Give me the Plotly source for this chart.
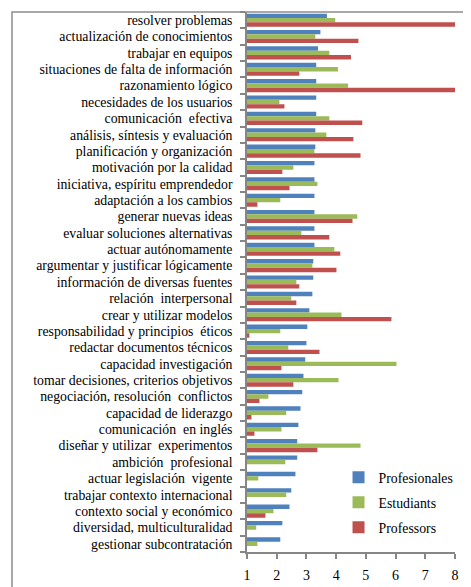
import plotly.graph_objects as go

categories = [
    "resolver problemas", "actualización de conocimientos", "trabajar en equipos",
    "situaciones de falta de información", "razonamiento lógico", "necesidades de los usuarios",
    "comunicación  efectiva", "análisis, síntesis y evaluación", "planificación y organización",
    "motivación por la calidad", "iniciativa, espíritu emprendedor", "adaptación a los cambios",
    "generar nuevas ideas", "evaluar soluciones alternativas", "actuar autónomamente",
    "argumentar y justificar lógicamente", "información de diversas fuentes", "relación  interpersonal",
    "crear y utilizar modelos", "responsabilidad y principios  éticos", "redactar documentos técnicos",
    "capacidad investigación", "tomar decisiones, criterios objetivos", "negociación, resolución  conflictos",
    "capacidad de liderazgo", "comunicación  en inglés", "diseñar y utilizar  experimentos",
    "ambición  profesional", "actuar legislación  vigente", "trabajar contexto internacional",
    "contexto social y económico", "diversidad, multiculturalidad", "gestionar subcontratación",
]

profesionales = [3.69, 3.47, 3.39, 3.33, 3.33, 3.33, 3.33, 3.30, 3.30, 3.27, 3.27, 3.27,
                 3.27, 3.27, 3.27, 3.23, 3.23, 3.20, 3.10, 3.03, 3.00, 2.96, 2.90, 2.86,
                 2.80, 2.73, 2.69, 2.69, 2.63, 2.49, 2.43, 2.19, 2.12]
estudiants = [3.97, 3.30, 3.77, 4.06, 4.40, 2.09, 3.77, 3.67, 3.27, 2.56, 3.37, 2.12,
              4.71, 2.83, 3.94, 3.20, 2.66, 2.49, 4.18, 2.12, 2.39, 6.03, 4.08, 1.72,
              2.32, 2.16, 4.82, 2.29, 1.38, 2.32, 1.89, 1.31, 1.35]
professors = [8.0, 4.75, 4.50, 2.76, 8.0, 2.26, 4.88, 4.58, 4.82, 2.19, 2.43, 1.35,
              4.55, 3.77, 4.14, 4.01, 2.76, 2.66, 5.86, 1.08, 3.44, 2.16, 2.56, 1.42,
              1.15, 1.25, 3.37, None, None, None, 1.62, None, None]

x_ticks = [1, 2, 3, 4, 5, 6, 7, 8]

FONT = "Liberation Serif"
GRAY = "#868686"

fig = go.Figure()
series = [("Profesionales", profesionales, "#4F81BD"),
          ("Estudiants", estudiants, "#9BBB59"),
          ("Professors", professors, "#C0504D")]
for i, (name, vals, col) in enumerate(series):
    fig.add_trace(go.Bar(y=categories, x=vals, name=name, orientation="h",
                         marker=dict(color=col, line=dict(width=0)),
                         legendgroup=f"g{i}"))

# page body has an 8px margin: the figure starts at (8, 8) in the window
W, H = 463, 579
fig.update_layout(
    width=W, height=H,
    margin=dict(l=239, r=16, t=4, b=29),
    paper_bgcolor="white", plot_bgcolor="white",
    barmode="group", bargap=0.2, bargroupgap=0,
    font=dict(family=FONT, color="black", size=12),
    legend=dict(x=0.44, y=0.167, xanchor="left", yanchor="top",
                font=dict(family=FONT, size=13.8), tracegroupgap=4,
                bgcolor="rgba(0,0,0,0)", itemwidth=30),
    xaxis=dict(range=[1, 8], tickvals=x_ticks, ticktext=[str(v) for v in x_ticks],
               showgrid=False, zeroline=False, showline=True, linecolor=GRAY, linewidth=1.5,
               ticks="outside", ticklen=5, tickcolor=GRAY, tickwidth=1.5,
               tickfont=dict(family=FONT, size=14), ticklabelstandoff=4),
    yaxis=dict(autorange="reversed", showgrid=False, zeroline=False, showline=True,
               linecolor=GRAY, linewidth=1.5, ticks="outside", ticklen=5, tickcolor=GRAY,
               tickwidth=1.5, tickson="boundaries",
               tickmode="array", tickvals=categories, ticktext=categories,
               tickfont=dict(family=FONT, size=13.8), ticklabelstandoff=10),
    shapes=[dict(type="rect", xref="paper", yref="paper",
                 x0=(4 - 239) / 208, x1=1.2, y0=-0.2, y1=1.0,
                 line=dict(color="#8c8c8c", width=1.5), fillcolor="rgba(0,0,0,0)", layer="below")],
)

fig.write_html("out.html")
